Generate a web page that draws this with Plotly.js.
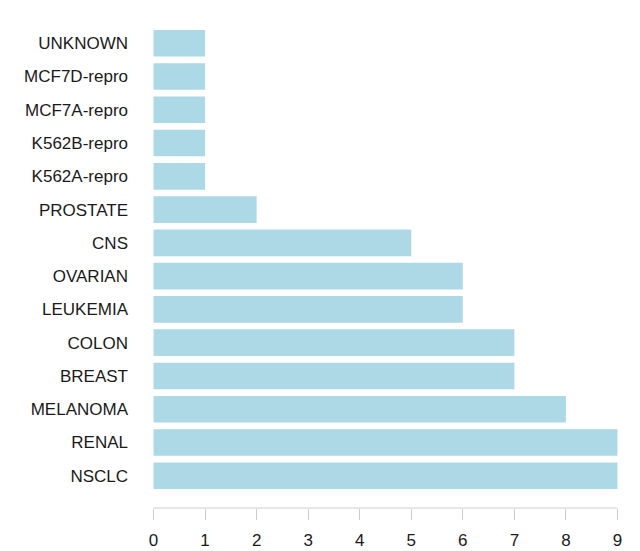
<!DOCTYPE html>
<html>
<head>
<meta charset="utf-8">
<script src="https://cdn.plot.ly/plotly-3.0.1.min.js"></script>
<style>html,body{margin:0;padding:0;background:#fff;}#chart{width:640px;height:551px;}</style>
</head>
<body>
<div id="chart"></div>
<script>
// Categories listed bottom-to-top
var categories = ["NSCLC", "RENAL", "MELANOMA", "BREAST", "COLON", "LEUKEMIA", "OVARIAN", "CNS", "PROSTATE", "K562A-repro", "K562B-repro", "MCF7A-repro", "MCF7D-repro", "UNKNOWN"];
var counts = [9, 9, 8, 7, 7, 6, 6, 5, 2, 1, 1, 1, 1, 1];
var xTicks = [0, 1, 2, 3, 4, 5, 6, 7, 8, 9];

var trace = {
  type: "bar",
  orientation: "h",
  y: categories,
  x: counts,
  marker: {color: "#ADD8E6", line: {width: 0}},
  hoverinfo: "x+y"
};

var layout = {
  width: 640, height: 551,
  margin: {l: 135, r: 4, t: 11, b: 43, pad: 0},
  paper_bgcolor: "#ffffff",
  plot_bgcolor: "#ffffff",
  showlegend: false,
  bargap: 0.2,
  font: {family: "'Liberation Sans', Arial, sans-serif", size: 17, color: "#1a1a1a"},
  xaxis: {
    range: [-0.36, 9.36],
    tickvals: xTicks,
    ticktext: xTicks.map(String),
    ticks: "outside",
    ticklen: 11,
    tickcolor: "#cccccc",
    tickwidth: 1,
    showgrid: false,
    zeroline: false,
    showline: false,
    tickfont: {size: 17, color: "#1a1a1a"},
    ticklabelstandoff: 6,
    fixedrange: true
  },
  yaxis: {
    type: "category",
    categoryorder: "array",
    categoryarray: categories,
    range: [-0.97, categories.length - 1 + 0.97],
    showgrid: false,
    zeroline: false,
    showline: false,
    ticks: "",
    tickfont: {size: 17, color: "#1a1a1a"},
    ticklabelstandoff: 6,
    fixedrange: true
  },
  shapes: [{
    type: "line",
    xref: "x", yref: "paper",
    x0: xTicks[0], x1: xTicks[xTicks.length - 1],
    y0: 0, y1: 0,
    line: {color: "#cccccc", width: 1}
  }]
};

Plotly.newPlot("chart", [trace], layout, {displayModeBar: false, staticPlot: true});
</script>
</body>
</html>
